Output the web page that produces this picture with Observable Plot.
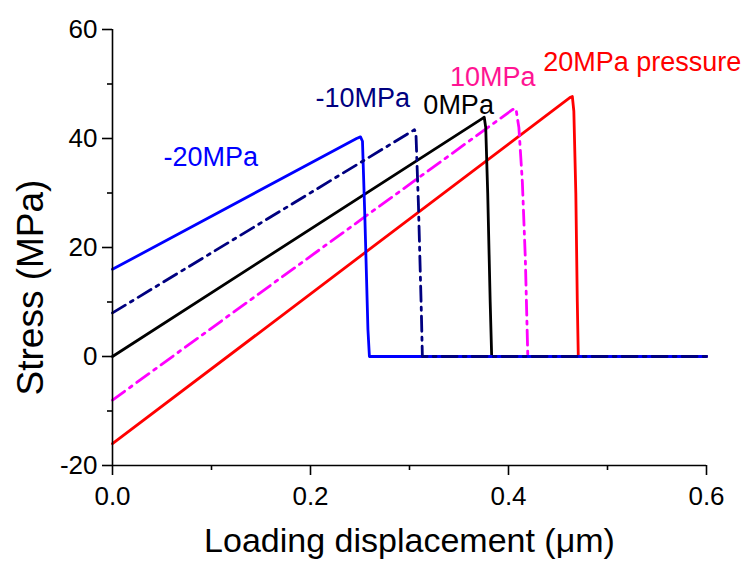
<!DOCTYPE html>
<html><head><meta charset="utf-8">
<script src="https://cdn.jsdelivr.net/npm/d3@7"></script>
<script src="https://cdn.jsdelivr.net/npm/@observablehq/plot@0.6"></script>
<style>body{margin:0;background:#fff} svg{display:block}</style>
</head><body><div id="chart"></div>
<script>
// Stress vs loading displacement under different confining pressures
const xRed = [0, 0.462, 0.4645, 0.466, 0.468, 0.4695, 0.4705, 0.6];
const yRed = [-16, 47.5, 47.7, 45, 30, 10, 0, 0];
const xMagenta = [0, 0.404, 0.4075, 0.4105, 0.414, 0.417, 0.4195, 0.6];
const yMagenta = [-8, 45.3, 45.5, 42, 32, 18, 0, 0];
const xBlack = [0, 0.373, 0.3755, 0.377, 0.379, 0.3815, 0.383, 0.6];
const yBlack = [0, 43.6, 43.9, 42, 30, 10, 0, 0];
const xBlue = [0, 0.2465, 0.2505, 0.2525, 0.255, 0.258, 0.2595, 0.6];
const yBlue = [16, 40.0, 40.3, 39.5, 25, 5, 0, 0];
const xNavy = [0, 0.305, 0.3065, 0.309, 0.312, 0.313, 0.6];
const yNavy = [8, 41.6, 41.0, 28, 8, 0, 0];

const labelText = ["-20MPa", "-10MPa", "0MPa", "10MPa", "20MPa pressure"];
const labelX = [0.0515, 0.205, 0.314, 0.341, 0.435];
const labelY = [36.6, 47.3, 46.0, 51.2, 54.0];
const labelColor = ["#0000ff", "#000080", "#000000", "#ff1493", "#ff0000"];

const xTicks = [0, 0.2, 0.4, 0.6];
const xMinor = [0.1, 0.3, 0.5];
const yTicks = [-20, 0, 20, 40, 60];
const yMinor = [-10, 10, 30, 50];

const toPts = (xs, ys) => xs.map((x, i) => ({x, y: ys[i]}));
const font = "Liberation Sans, Arial, sans-serif";

const lineOpts = (color, dash) => ({x: "x", y: "y", stroke: color, strokeWidth: 2.8, strokeDasharray: dash, strokeLinejoin: "round", curve: "linear"});

const chart = Plot.plot({
  width: 744, height: 561,
  marginLeft: 112, marginRight: 38, marginTop: 29, marginBottom: 96,
  style: {fontFamily: font, background: "#fff"},
  x: {domain: [0, 0.6], label: null},
  y: {domain: [-20, 60], label: null},
  color: {type: "identity"},
  marks: [
    Plot.line(toPts(xRed, yRed), lineOpts("#ff0000", null)),
    Plot.line(toPts(xMagenta, yMagenta), lineOpts("#ff00ff", "15,6,3,6")),
    Plot.line(toPts(xBlack, yBlack), lineOpts("#000000", null)),
    Plot.line(toPts(xBlue, yBlue), lineOpts("#0000ff", null)),
    Plot.line(toPts(xNavy, yNavy), lineOpts("#000080", "15,6,3,6")),
    Plot.ruleX([0], {y1: -20, y2: 60, stroke: "#000", strokeWidth: 1.6}),
    Plot.ruleY([-20], {x1: 0, x2: 0.6, stroke: "#000", strokeWidth: 1.6}),
    Plot.axisY(yTicks, {tickSize: 10, tickPadding: 5, fontSize: 26, strokeWidth: 1.6, fill: "#000", label: null, tickFormat: d => d}),
    Plot.axisY(yMinor, {tickSize: 5, strokeWidth: 1.6, label: null, tickFormat: () => ""}),
    Plot.axisX(xTicks, {tickSize: 10, tickPadding: 11, fontSize: 26, strokeWidth: 1.6, fill: "#000", label: null, tickFormat: d3.format(".1f")}),
    Plot.axisX(xMinor, {tickSize: 5, strokeWidth: 1.6, label: null, tickFormat: () => ""}),
    Plot.text(labelText, {x: (d, i) => labelX[i], y: (d, i) => labelY[i], text: d => d, fill: (d, i) => labelColor[i], textAnchor: "start", fontSize: 27}),
    Plot.text(["Loading displacement (\u03bcm)"], {frameAnchor: "bottom", textAnchor: "middle", dy: 86, text: d => d, fontSize: 34, fill: "#000"}),
    Plot.text(["Stress (MPa)"], {frameAnchor: "left", textAnchor: "middle", dx: -81, dy: 40, rotate: -90, text: d => d, fontSize: 37, fill: "#000"})
  ]
});
document.getElementById("chart").appendChild(chart);
</script>
</body></html>
